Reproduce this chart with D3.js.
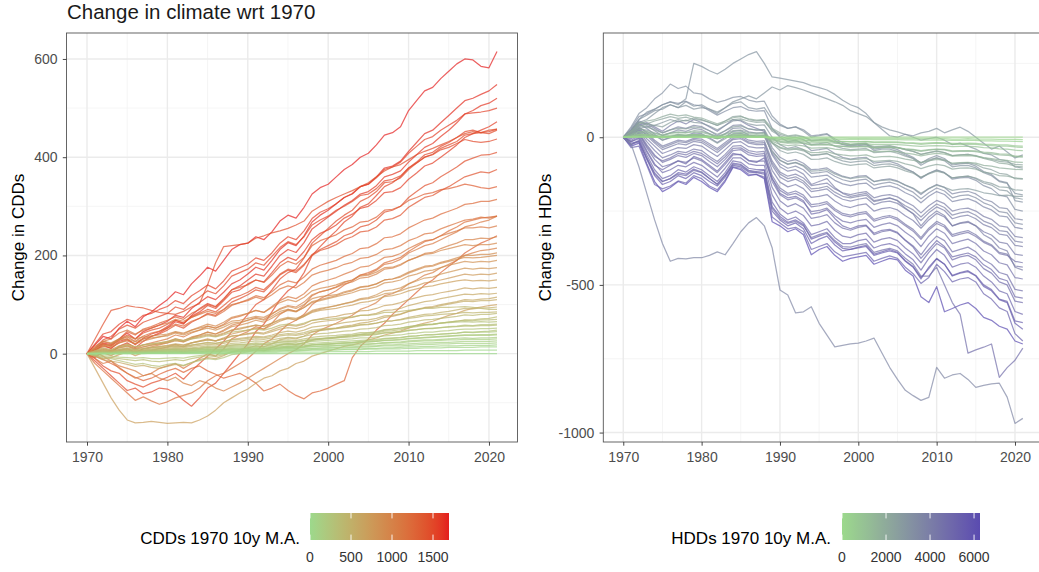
<!DOCTYPE html>
<html>
<head>
<meta charset="utf-8">
<script src="https://cdn.jsdelivr.net/npm/d3@7"></script>
<style>
  body { margin: 0; background: #fff; }
  svg { display: block; font-family: "Liberation Sans", Arial, Helvetica, sans-serif; }
</style>
</head>
<body>
<svg id="chart" width="1039" height="572"></svg>
<script>
// ---- data -------------------------------------------------------------
const years = [1970,1971,1972,1973,1974,1975,1976,1977,1978,1979,
  1980,1981,1982,1983,1984,1985,1986,1987,1988,1989,
  1990,1991,1992,1993,1994,1995,1996,1997,1998,1999,
  2000,2001,2002,2003,2004,2005,2006,2007,2008,2009,
  2010,2011,2012,2013,2014,2015,2016,2017,2018,2019,
  2020,2021];

const yearTicks = [1970, 1980, 1990, 2000, 2010, 2020];
const cddTicks = [0, 200, 400, 600];
const hddTicks = [-1000, -500, 0];
const cddLegendTicks = [0, 500, 1000, 1500];
const hddLegendTicks = [0, 2000, 4000, 6000];

// 1970 cooling degree days (10y moving average) of each region
const cddBase = [1695, 1640, 1600, 1560, 1520, 1500, 1480, 1450, 1420, 1460,
  1300, 1200, 1050, 1250, 1150, 1100, 1000, 950, 900, 850, 800,
  700, 750, 700, 650, 600, 550, 500,
  420, 400, 350, 300, 300, 250, 220, 180, 140, 100, 60, 30, 0,
  1350, 1100, 900, 600, 450, 380, 320, 260, 200, 160, 120, 80, 1550];

// change in CDDs relative to 1970, one row per region
const cddChange = [
  [0,18,35,30,52,66,55,75,85,98, 110,126,120,142,158,176,168,190,212,222, 225,238,232,248,270,282,276,298,325,338, 345,360,375,385,400,408,425,445,450,462, 495,515,535,542,560,575,590,600,598,585, 582,615],
  [0,10,22,18,30,42,30,45,52,58, 66,78,74,92,104,116,110,125,142,150, 162,176,170,190,212,226,220,240,268,282, 292,305,318,325,340,345,360,378,382,392, 412,430,448,455,470,485,500,515,520,528, 535,548],
  [0,-8,5,2,15,22,12,25,35,42, 52,65,60,78,92,102,96,112,130,138, 150,162,158,178,200,212,206,226,254,266, 278,290,302,312,325,330,342,360,365,372, 390,405,420,428,442,455,470,488,495,505, 510,520],
  [0,5,18,10,25,30,18,32,40,45, 55,68,62,76,85,98,92,108,125,130, 142,150,146,165,185,196,190,208,232,245, 252,262,276,284,296,300,312,328,330,338, 355,368,382,388,400,412,425,440,448,455, 462,472],
  [0,-15,-30,-45,-60,-75,-70,-82,-78,-70, -72,-80,-95,-107,-90,-70,-60,-40,-20,0, 20,45,60,85,110,128,140,165,200,218, 235,250,268,280,298,305,322,340,348,360, 378,390,405,410,422,430,440,452,455,450, 452,457],
  [0,12,28,35,50,58,52,64,70,76, 82,95,90,104,115,128,122,138,158,165, 172,185,180,198,216,228,222,238,262,272, 280,292,300,310,322,325,336,352,355,362, 378,388,400,405,415,420,428,436,432,430, 432,437],
  [0,-10,-25,-35,-40,-55,-62,-68,-60,-55, -48,-40,-52,-35,-20,-5,10,25,45,60, 80,100,110,130,152,165,172,195,225,240, 255,270,282,292,310,318,330,348,350,358, 375,388,400,406,418,425,432,445,448,450, 448,455],
  [0,8,15,12,22,28,20,30,35,40, 48,58,52,64,72,82,78,90,105,112, 120,130,126,142,160,170,165,180,202,212, 220,228,240,246,258,262,272,288,292,300, 318,330,342,348,360,370,380,392,398,404, 405,410],
  [0,6,20,16,28,38,30,42,48,52, 60,68,62,74,82,90,85,98,112,118, 125,135,130,145,162,172,168,182,200,210, 215,222,232,238,248,250,258,272,275,282, 298,308,318,322,332,340,350,360,365,370, 368,375],
  [0,30,60,88,92,98,95,93,88,84, 82,80,86,95,102,140,185,218,220,222, 225,235,240,246,250,255,262,270,290,300, 310,318,325,332,340,348,360,372,380,385, 395,405,412,418,425,432,440,448,452,450, 455,457],
  [0,-5,-12,-20,-28,-40,-48,-55,-50,-42, -35,-30,-38,-30,-25,-35,-42,-50,-45,-40, -49,-60,-76,-70,-62,-75,-85,-92,-80,-76, -70,-62,-55,-8,15,30,48,62,80,95, 110,125,140,150,165,178,190,205,215,225, 232,240],
  [0,-20,-35,-50,-65,-80,-95,-88,-96,-103, -98,-90,-85,-80,-70,-55,-45,-40,-30,-20, -10,5,20,30,45,60,68,80,100,112, 120,128,140,148,160,165,172,185,190,196, 208,218,228,232,240,250,258,268,272,276, 278,280],
  [0,5,-5,-15,-25,-30,-35,-45,-40,-50, -55,-48,-60,-65,-55,-60,-70,-76,-68,-60, -50,-40,-30,-20,-10,0,8,20,38,48, 55,62,70,78,90,96,104,118,122,130, 142,150,160,165,175,182,190,200,205,210, 212,215],
  [0,8,20,15,28,34,25,36,42,46, 52,60,56,66,72,80,76,86,98,104, 110,118,114,126,140,148,144,156,172,180, 185,190,198,204,214,216,224,236,238,244, 256,264,272,276,284,290,296,304,306,310, 310,314],
  [0,15,25,30,42,48,40,48,52,58, 62,70,66,74,80,86,82,90,100,104, 108,115,110,120,132,138,134,145,160,166, 170,175,182,186,194,196,202,212,214,220, 230,236,244,246,254,260,266,272,274,278, 276,280],
  [0,4,10,6,14,18,10,18,22,26, 30,38,34,42,48,56,52,60,72,76, 82,88,84,96,108,116,112,122,138,145, 150,155,162,168,176,178,186,196,198,204, 214,222,230,232,240,245,250,256,256,258, 256,260],
  [0,-5,2,-4,6,10,2,10,14,18, 22,28,24,32,38,44,40,48,58,62, 68,74,70,80,92,98,95,105,120,126, 130,135,142,146,154,156,162,172,174,180, 190,196,204,206,214,220,225,232,232,235, 234,238],
  [0,10,18,14,22,26,20,26,30,34, 38,44,40,48,54,60,56,64,74,78, 82,88,84,94,104,110,106,115,128,133, 136,140,146,150,158,160,166,175,176,182, 190,196,202,204,210,214,218,222,220,222, 222,225],
  [0,2,8,4,12,16,8,14,18,20, 24,30,26,34,38,44,40,46,55,58, 62,68,64,72,82,88,85,94,106,110, 114,118,124,128,135,137,142,150,152,158, 166,172,178,180,186,190,195,200,200,202, 202,205],
  [0,6,14,20,28,30,24,30,32,34, 36,42,38,44,48,52,48,54,62,64, 68,72,68,76,86,90,86,94,104,108, 112,116,120,124,130,132,136,144,146,150, 158,162,168,170,175,180,184,188,186,188, 187,190],
  [0,-4,-10,-8,-2,4,-4,2,6,10, 14,18,14,22,26,30,26,32,40,44, 48,52,50,58,66,72,68,76,86,90, 94,98,102,106,112,114,120,128,130,134, 142,148,154,156,162,166,170,174,172,174, 173,175],
  [0,-30,-60,-90,-115,-135,-141,-140,-138,-140, -142,-141,-140,-141,-135,-127,-115,-100,-90,-80, -72,-60,-50,-45,-35,-30,-20,-15,-5,0, 5,10,15,18,22,28,32,38,42,46, 52,58,62,66,72,78,82,88,92,95, 98,100],
  [0,4,8,6,12,15,10,14,17,20, 22,26,24,30,34,38,35,40,48,50, 54,58,55,62,70,74,72,78,88,92, 95,98,102,105,110,112,116,122,124,128, 134,138,144,146,150,154,158,162,160,162, 161,164],
  [0,6,12,8,16,20,14,18,20,22, 25,30,27,32,36,40,37,42,48,52, 55,58,56,62,68,72,70,76,84,88, 90,92,96,99,104,106,110,116,118,122, 128,132,136,138,142,145,148,150,148,149, 148,150],
  [0,2,5,3,8,10,6,9,12,14, 16,19,17,22,25,28,26,30,36,38, 41,44,42,48,54,58,56,60,68,71, 74,76,80,82,87,88,92,98,100,104, 110,114,118,120,124,127,130,134,132,134, 133,135],
  [0,3,6,4,9,12,8,11,13,15, 17,20,18,22,25,28,26,30,35,37, 40,42,40,45,50,53,51,55,62,65, 67,69,72,74,78,79,82,88,89,92, 98,102,106,108,112,115,118,121,120,122, 121,123],
  [0,1,4,2,6,8,4,7,9,11, 13,15,14,17,20,23,21,24,29,31, 33,35,34,38,43,46,44,48,54,56, 58,60,63,65,68,69,72,77,78,81, 86,89,93,94,98,101,104,107,106,108, 108,110],
  [0,2,4,3,6,7,5,7,8,10, 11,13,12,15,17,19,18,21,25,26, 28,30,29,32,36,38,37,40,45,47, 49,51,53,55,58,59,62,66,67,70, 74,77,80,81,84,86,89,92,91,93, 93,95],
  [0,5,10,8,14,18,14,18,20,22, 24,28,26,30,32,36,34,38,44,46, 48,50,48,52,58,60,58,62,68,70, 70,72,74,75,78,78,80,84,84,86, 88,90,92,92,94,94,95,96,94,92, 90,90],
  [0,2,3,2,5,6,4,6,7,8, 9,11,10,12,14,16,15,17,21,22, 24,26,25,28,31,33,32,35,39,41, 42,44,46,47,50,51,53,57,58,60, 64,66,69,70,72,74,76,79,78,80, 80,82],
  [0,1,3,2,4,5,3,5,6,7, 8,9,9,11,12,14,13,15,18,19, 20,22,21,24,27,28,27,30,33,35, 36,37,39,40,43,43,45,49,50,52, 55,57,59,60,62,64,66,68,67,69, 69,70],
  [0,-4,-8,-10,-14,-18,-22,-20,-24,-26, -22,-20,-24,-18,-14,-10,-12,-8,-2,0, 4,8,6,12,18,20,18,22,28,30, 32,34,36,38,40,42,44,48,50,52, 55,57,59,60,62,63,64,65,64,65, 64,65],
  [0,1,2,1,3,4,2,4,5,6, 7,8,7,9,10,12,11,13,15,16, 17,19,18,20,23,24,23,26,28,30, 31,32,33,34,36,37,39,42,43,44, 47,49,51,51,53,55,56,58,57,59, 59,60],
  [0,1,2,1,3,3,2,3,4,5, 6,7,6,8,9,10,9,11,13,14, 15,16,15,17,20,21,20,22,25,26, 27,28,29,30,32,32,34,36,37,38, 41,42,44,44,46,47,49,50,50,51, 51,52],
  [0,1,1,1,2,3,2,3,3,4, 5,6,5,7,8,9,8,9,11,12, 13,14,13,15,17,18,17,19,21,22, 23,24,25,26,27,28,29,31,32,33, 35,36,38,38,40,41,42,44,43,44, 44,45],
  [0,0,1,1,2,2,1,2,3,3, 4,5,4,6,7,7,7,8,9,10, 11,12,11,13,14,15,15,16,18,19, 19,20,21,22,23,24,25,27,27,28, 30,31,32,33,34,35,36,37,37,37, 37,38],
  [0,0,1,0,1,2,1,2,2,3, 3,4,3,4,5,6,5,6,7,8, 8,9,9,10,11,12,11,13,14,15, 15,16,17,17,18,19,20,21,22,22, 24,25,26,26,27,28,28,29,29,29, 29,30],
  [0,0,0,0,1,1,1,1,2,2, 2,3,2,3,4,4,4,5,5,6, 6,7,6,7,8,9,8,9,10,11, 11,12,12,13,13,14,15,16,16,16, 17,18,19,19,20,20,21,21,21,21, 21,22],
  [0,0,0,0,0,1,0,1,1,1, 1,2,1,2,2,3,2,3,3,4, 4,4,4,5,5,6,5,6,7,7, 7,7,8,8,8,9,9,10,10,10, 11,11,12,12,12,13,13,13,13,14, 14,14],
  [0,0,0,0,0,0,0,0,1,1, 1,1,1,1,1,1,1,1,2,2, 2,2,2,2,3,3,3,3,3,3, 4,4,4,4,4,4,5,5,5,5, 5,6,6,6,6,6,6,7,7,7, 7,7],
  [0,0,0,0,0,0,0,0,0,0, 0,0,0,0,0,0,0,0,0,0, 0,0,0,0,0,0,0,0,0,0, 0,0,0,0,0,0,0,0,0,0, 0,0,0,0,0,0,0,0,0,0, 0,0],
  [0,10,25,20,30,45,38,50,55,62, 68,75,70,82,90,100,95,110,130,135, 140,150,145,160,178,188,182,196,220,230, 236,242,252,258,268,270,278,292,294,300, 312,318,325,328,334,336,340,345,342,338, 336,340],
  [0,-10,-20,-15,-30,-40,-50,-45,-40,-30, -25,-20,-30,-20,-10,0,-5,10,30,38, 45,55,50,62,80,90,86,98,118,126, 130,136,145,150,160,162,170,182,185,192, 205,212,220,224,232,240,248,258,262,268, 272,280],
  [0,12,25,22,30,35,30,34,36,38, 40,45,42,48,52,56,52,58,66,68, 72,76,74,82,90,96,92,100,112,116, 118,120,126,130,136,138,142,150,152,156, 164,170,176,178,184,188,192,196,195,196, 198,200],
  [0,-5,-12,-15,-18,-22,-26,-24,-28,-30, -26,-22,-25,-18,-12,-8,-10,-4,4,8, 12,16,14,20,28,32,30,36,44,48, 50,52,56,58,62,64,68,74,76,80, 86,90,94,96,100,103,106,110,109,111, 112,115],
  [0,3,6,5,8,10,8,10,12,13, 14,16,15,18,20,22,21,24,28,29, 31,33,32,35,39,41,40,43,48,50, 51,52,54,56,59,60,62,66,67,69, 72,74,77,78,80,81,82,84,83,84, 84,85],
  [0,-3,-6,-8,-10,-12,-14,-12,-15,-16, -14,-12,-14,-10,-7,-4,-6,-2,3,5, 8,10,9,13,18,20,19,22,27,29, 30,32,34,36,39,40,42,46,47,49, 53,55,58,59,62,64,66,69,69,71, 72,75],
  [0,2,3,3,4,5,4,5,6,7, 8,9,8,10,11,13,12,14,17,18, 19,20,19,21,24,25,25,27,30,31, 32,33,35,36,38,39,40,43,44,45, 48,49,51,52,53,54,55,56,56,57, 57,58],
  [0,-2,-4,-5,-7,-8,-9,-8,-10,-10, -9,-8,-9,-6,-4,-2,-3,0,3,4, 6,7,6,9,12,13,12,14,18,19, 20,21,22,23,25,26,27,30,31,32, 35,36,38,39,40,41,42,44,44,45, 46,48],
  [0,1,2,2,3,3,3,3,4,4, 5,5,5,6,7,8,7,8,10,10, 11,12,11,13,14,15,15,16,18,19, 20,21,22,22,24,24,25,27,28,29, 31,32,33,34,35,36,37,38,38,39, 39,40],
  [0,0,1,1,2,2,1,2,2,3, 3,4,3,5,5,6,6,7,8,8, 9,10,9,11,12,13,12,14,15,16, 17,17,18,19,20,20,21,23,23,24, 26,27,28,28,29,30,31,32,31,32, 32,33],
  [0,0,0,0,1,1,1,1,1,2, 2,3,2,3,4,4,4,5,6,6, 7,7,7,8,9,10,9,10,11,12, 13,13,14,14,15,16,16,18,18,19, 20,21,22,22,23,23,24,25,25,25, 25,26],
  [0,0,0,0,0,1,0,1,1,1, 1,2,1,2,2,3,3,3,4,4, 5,5,5,5,6,6,6,7,8,8, 8,9,9,10,10,11,11,12,12,13, 14,14,15,15,16,16,16,17,17,17, 17,18],
  [0,20,40,45,60,70,65,78,82,90, 96,108,102,118,128,140,132,148,168,175, 182,195,190,205,225,238,232,250,275,288, 295,305,318,326,340,345,358,375,380,390, 408,422,436,442,455,465,475,488,490,492, 495,500]
];

// 1970 heating degree days (10y moving average) of each region
const hddBase = [6270, 5200, 5500, 5000, 4800, 4600, 4500, 4300, 4200, 4000, 3900,
  4700, 3600, 3700, 3500, 3300, 3100, 3000, 2900, 2600,
  2500, 2200, 1900, 1600, 1300, 1000, 700, 400, 0, 2000,
  3900, 3000, 2400, 4900, 5300, 3800, 3400, 1500, 800, 200, 2300, 4400, 2800];

// change in HDDs relative to 1970, one row per region
const hddChange = [
  [0,-30,-20,-90,-150,-184,-170,-150,-160,-136, -150,-170,-184,-150,-102,-110,-130,-126,-140,-286, -300,-320,-310,-330,-398,-380,-370,-400,-420,-410, -405,-400,-430,-420,-410,-415,-450,-470,-540,-560, -506,-591,-580,-568,-560,-580,-610,-620,-640,-650, -690,-700],
  [0,-35,-30,-95,-160,-175,-165,-148,-155,-130, -140,-165,-178,-145,-100,-105,-125,-126,-135,-270, -290,-310,-305,-320,-380,-370,-360,-388,-405,-400, -395,-390,-420,-410,-402,-410,-440,-462,-495,-475, -430,-455,-490,-480,-475,-490,-530,-548,-578,-590, -665,-690],
  [0,-20,-15,-75,-130,-160,-150,-130,-140,-120, -130,-150,-165,-135,-95,-100,-118,-120,-125,-250, -280,-300,-290,-310,-360,-345,-335,-365,-385,-380, -375,-370,-400,-392,-385,-392,-420,-440,-480,-440, -410,-430,-470,-460,-455,-470,-505,-520,-550,-560, -630,-650],
  [0,-15,-5,-60,-110,-140,-130,-110,-118,-100, -110,-130,-150,-120,-80,-85,-105,-110,-110,-220, -260,-280,-270,-290,-330,-320,-310,-340,-360,-360, -350,-345,-375,-365,-360,-370,-395,-415,-450,-410, -380,-400,-440,-430,-425,-440,-470,-490,-520,-530, -590,-600],
  [0,-10,5,-45,-90,-120,-110,-95,-100,-85, -95,-115,-135,-105,-70,-70,-90,-95,-95,-195, -240,-260,-250,-265,-300,-295,-285,-315,-335,-340, -330,-325,-355,-345,-340,-350,-375,-395,-425,-390, -360,-375,-415,-405,-400,-415,-445,-460,-490,-500, -555,-560],
  [0,-5,10,-35,-75,-100,-92,-80,-85,-70, -80,-100,-120,-92,-60,-58,-78,-82,-80,-170, -215,-235,-225,-240,-275,-270,-262,-290,-308,-315, -305,-300,-330,-320,-315,-325,-348,-368,-398,-362, -335,-350,-388,-380,-372,-388,-415,-430,-458,-466, -515,-520],
  [0,0,15,-25,-60,-85,-75,-62,-68,-55, -62,-82,-100,-75,-45,-42,-60,-65,-62,-150, -195,-212,-205,-220,-252,-248,-240,-266,-284,-290, -282,-278,-305,-296,-290,-300,-322,-340,-370,-335, -310,-325,-360,-352,-345,-360,-385,-398,-425,-432, -475,-480],
  [0,5,20,-15,-45,-70,-60,-48,-52,-40, -45,-65,-82,-58,-30,-28,-45,-50,-48,-130, -172,-190,-182,-196,-228,-225,-218,-242,-258,-264, -256,-252,-278,-270,-265,-274,-295,-312,-340,-308, -285,-298,-330,-322,-316,-330,-352,-364,-390,-396, -436,-440],
  [0,8,25,-5,-30,-55,-45,-35,-38,-25, -30,-48,-65,-42,-18,-15,-32,-36,-35,-112, -152,-168,-160,-174,-204,-200,-194,-216,-232,-238, -230,-226,-250,-242,-238,-246,-266,-282,-308,-280, -258,-270,-300,-292,-288,-300,-320,-331,-355,-360, -396,-400],
  [0,10,30,5,-20,-42,-32,-22,-26,-14, -18,-35,-52,-30,-8,-5,-20,-25,-24,-95, -135,-150,-142,-156,-184,-180,-175,-196,-210,-216, -210,-205,-228,-220,-216,-224,-242,-258,-282,-256, -236,-248,-276,-268,-264,-276,-296,-306,-328,-332, -366,-370],
  [0,12,35,15,-10,-30,-20,-10,-14,-4, -6,-22,-38,-18,2,5,-10,-14,-12,-80, -118,-132,-125,-138,-164,-160,-155,-175,-188,-194, -188,-184,-205,-198,-194,-202,-218,-232,-256,-232, -214,-225,-250,-243,-240,-250,-268,-278,-300,-304, -336,-340],
  [0,-25,-15,-70,-120,-150,-140,-125,-130,-112, -120,-140,-160,-130,-92,-95,-115,-118,-120,-240, -275,-292,-285,-300,-340,-330,-322,-350,-370,-372, -365,-360,-390,-382,-376,-385,-410,-430,-470,-470, -440,-500,-560,-600,-731,-720,-711,-700,-813,-780, -755,-714],
  [0,-24,-100,-190,-280,-360,-420,-410,-412,-408, -408,-400,-388,-398,-360,-320,-290,-272,-300,-374, -517,-534,-595,-591,-574,-630,-670,-710,-705,-700, -697,-690,-680,-730,-779,-820,-857,-875,-891,-881, -779,-816,-805,-800,-820,-847,-840,-835,-833,-880, -969,-952],
  [0,18,45,30,10,-10,0,10,5,15, 12,-2,-18,0,20,22,8,4,6,-55, -90,-105,-98,-110,-135,-132,-128,-146,-158,-164, -158,-155,-175,-168,-165,-172,-188,-200,-222,-200, -184,-194,-218,-212,-208,-218,-236,-246,-266,-270, -305,-310],
  [0,22,55,45,30,15,25,35,30,40, 36,22,6,22,40,42,28,24,25,-35, -68,-82,-76,-88,-110,-108,-104,-120,-132,-138, -132,-130,-150,-144,-141,-148,-162,-174,-194,-174, -160,-170,-192,-186,-183,-192,-210,-218,-238,-242, -276,-280],
  [0,30,70,80,95,110,120,115,122,110, 105,90,75,88,100,104,92,88,90,30, 0,-15,-10,-22,-45,-42,-38,-55,-68,-74, -70,-68,-88,-84,-82,-90,-105,-118,-140,-122, -110,-120,-142,-138,-136,-146,-164,-174,-196,-202, -244,-250],
  [0,35,80,100,130,150,180,165,173,150, 146,130,118,125,135,138,126,120,122,72, 45,30,35,25,5,8,12,-5,-18,-25, -22,-20,-40,-36,-34,-42,-56,-68,-88,-72, -62,-72,-94,-90,-88,-98,-116,-126,-148,-154, -215,-220],
  [0,25,60,85,95,110,120,110,130,250, 240,225,214,230,250,265,280,290,250,204, 200,195,190,185,175,168,160,145,125,110, 100,80,50,27,5,0,10,5,15,20, 30,15,25,34,20,0,-20,-40,-30,-50, -70,-60],
  [0,20,50,60,80,100,110,100,108,95, 100,95,85,100,120,130,140,130,150,170, 160,175,168,160,150,140,130,120,108,90, 80,70,50,35,25,18,10,0,-10,-5, 0,-10,-25,-20,-30,-40,-55,-60,-75,-80, -100,-105],
  [0,12,30,20,5,-10,-2,5,2,10, 6,-5,-20,-5,12,14,4,0,2,-50, -78,-90,-85,-95,-115,-113,-110,-124,-134,-140, -136,-134,-150,-146,-144,-150,-162,-172,-190,-174, -162,-170,-180,-176,-174,-180,-188,-192,-198,-196, -200,-200],
  [0,15,40,35,25,15,25,30,28,35, 32,22,10,22,35,38,28,25,26,-20, -45,-55,-50,-58,-75,-74,-70,-82,-90,-95, -92,-90,-104,-100,-98,-104,-114,-122,-136,-124, -115,-122,-138,-134,-132,-138,-150,-156,-168,-170, -178,-180],
  [0,10,28,24,15,6,14,18,16,22, 20,12,2,12,22,24,16,14,15,-18, -36,-44,-40,-46,-60,-58,-56,-66,-72,-76, -74,-72,-82,-80,-78,-82,-90,-96,-106,-98, -92,-96,-108,-105,-104,-108,-118,-122,-130,-132, -138,-140],
  [0,6,18,14,6,-2,4,8,6,10, 8,2,-6,2,10,12,6,4,5,-20, -34,-40,-38,-42,-52,-51,-49,-56,-60,-63, -62,-60,-68,-66,-65,-68,-74,-78,-86,-80, -75,-78,-88,-86,-85,-88,-95,-98,-104,-106, -109,-110],
  [0,4,12,10,4,-2,2,5,4,7, 6,1,-4,1,7,8,4,3,3,-14, -24,-28,-26,-29,-37,-36,-35,-40,-43,-45, -44,-43,-49,-48,-47,-49,-54,-57,-63,-58, -55,-57,-64,-63,-62,-64,-69,-72,-77,-78, -84,-85],
  [0,3,9,7,3,-1,2,4,3,5, 4,1,-3,1,5,6,3,2,2,-10, -17,-20,-19,-21,-27,-26,-25,-29,-31,-33, -32,-31,-35,-34,-34,-35,-39,-41,-45,-42, -40,-41,-46,-45,-45,-46,-50,-52,-56,-57, -64,-65],
  [0,2,6,5,2,0,1,3,2,4, 3,1,-2,1,3,4,2,1,1,-7, -12,-14,-13,-15,-19,-18,-18,-20,-22,-23, -22,-22,-25,-24,-24,-25,-27,-29,-31,-29, -28,-29,-32,-31,-31,-32,-35,-36,-39,-40, -44,-45],
  [0,1,4,3,1,0,1,2,1,2, 2,0,-1,0,2,2,1,1,1,-4, -8,-9,-9,-10,-12,-12,-12,-13,-14,-15, -15,-14,-16,-16,-16,-16,-18,-19,-21,-19, -18,-19,-21,-21,-20,-21,-23,-24,-26,-26, -29,-30],
  [0,1,2,1,0,0,0,1,1,1, 1,0,-1,0,1,1,0,0,0,-2, -4,-5,-4,-5,-6,-6,-6,-7,-7,-7, -7,-7,-8,-8,-8,-8,-9,-9,-10,-10, -9,-10,-11,-11,-10,-11,-12,-12,-13,-13, -14,-15],
  [0,0,0,0,0,0,0,0,0,0, 0,0,0,0,0,0,0,0,0,0, 0,0,0,0,0,0,0,0,0,0, 0,0,0,0,0,0,0,0,0,0, 0,0,0,0,0,0,0,0,0,0, 0,0],
  [0,20,45,55,60,70,78,72,76,68, 65,55,45,55,66,70,62,58,60,30, 15,5,8,2,-10,-8,-5,-15,-22,-25, -24,-22,-32,-30,-28,-34,-42,-48,-58,-52, -46,-52,-62,-60,-58,-64,-72,-78,-88,-90, -98,-100],
  [0,15,40,50,35,20,40,55,45,60, 50,35,20,40,60,55,40,30,20,-60, -100,-115,-110,-125,-160,-150,-140,-170,-190,-200, -195,-190,-215,-210,-205,-215,-240,-260,-300,-270, -250,-265,-300,-290,-285,-300,-330,-345,-375,-385, -440,-450],
  [0,25,60,75,90,95,110,100,120,105, 110,95,80,100,115,120,100,95,100,60, 40,30,35,20,0,5,10,-10,-25,-30, -28,-25,-45,-40,-40,-48,-60,-72,-95,-80, -70,-80,-100,-96,-95,-104,-120,-130,-150,-156, -190,-195],
  [0,20,50,45,40,35,50,60,55,65, 60,50,40,55,70,72,60,55,58,20, 5,-5,0,-8,-25,-22,-18,-30,-38,-42, -40,-38,-52,-50,-48,-54,-64,-72,-86,-76, -70,-76,-90,-88,-86,-92,-104,-110,-122,-126, -140,-142],
  [0,-15,0,-50,-95,-110,-95,-80,-90,-65, -75,-95,-115,-85,-55,-60,-80,-85,-70,-140, -190,-205,-200,-215,-260,-255,-245,-275,-300,-310, -300,-298,-325,-315,-312,-322,-350,-372,-410,-380, -350,-370,-405,-398,-392,-405,-432,-448,-478,-486, -540,-545],
  [0,-25,-10,-70,-125,-150,-140,-120,-125,-108, -118,-140,-158,-128,-88,-92,-112,-116,-112,-235, -268,-288,-280,-296,-345,-335,-326,-355,-376,-380, -372,-366,-396,-388,-380,-390,-418,-438,-475,-445, -412,-430,-468,-458,-452,-468,-500,-516,-548,-556, -622,-628],
  [0,5,25,10,-15,-35,-25,-15,-18,-8, -12,-28,-44,-24,-4,0,-16,-20,-18,-88, -125,-140,-134,-148,-175,-172,-166,-186,-200,-205, -200,-196,-218,-212,-206,-214,-232,-246,-270,-246, -226,-238,-264,-256,-252,-264,-284,-294,-316,-320, -352,-356],
  [0,20,50,40,22,5,15,25,20,30, 26,12,-4,12,30,32,18,14,16,-45, -78,-92,-86,-98,-122,-120,-116,-132,-144,-150, -145,-142,-162,-156,-152,-160,-174,-186,-208,-188, -172,-182,-205,-198,-195,-205,-222,-232,-252,-256, -290,-295],
  [0,8,20,18,12,8,14,16,15,18, 16,10,4,10,16,17,12,10,11,-6, -14,-18,-16,-19,-26,-25,-24,-28,-31,-33, -32,-31,-36,-35,-34,-36,-40,-43,-48,-44, -41,-43,-49,-48,-47,-49,-54,-56,-60,-61, -66,-67],
  [0,4,10,9,6,4,7,8,8,9, 8,5,2,5,8,9,6,5,6,-3, -7,-9,-8,-10,-13,-12,-12,-14,-15,-16, -16,-15,-18,-17,-17,-18,-20,-21,-24,-22, -20,-21,-24,-24,-23,-24,-27,-28,-30,-30, -33,-34],
  [0,0,1,1,0,0,0,0,0,1, 0,0,0,0,0,1,0,0,0,-1, -1,-2,-2,-2,-3,-3,-3,-3,-3,-4, -4,-4,-4,-4,-4,-4,-5,-5,-5,-5, -5,-5,-6,-6,-5,-6,-6,-6,-7,-7, -7,-8],
  [0,15,35,45,55,62,70,64,68,60, 58,50,40,50,60,62,55,50,52,25, 10,2,5,0,-12,-10,-8,-18,-24,-28, -26,-25,-34,-32,-30,-35,-42,-48,-58,-52, -48,-52,-62,-60,-58,-62,-70,-75,-82,-84, -92,-94],
  [0,0,12,-30,-65,-80,-70,-55,-60,-48, -55,-72,-90,-66,-38,-36,-52,-58,-55,-140, -180,-196,-190,-204,-236,-232,-225,-248,-264,-270, -262,-258,-284,-276,-270,-280,-300,-318,-346,-314, -292,-304,-336,-328,-322,-336,-356,-368,-394,-400, -420,-425],
  [0,10,30,35,40,50,60,52,58,50, 48,38,25,40,55,58,45,40,42,0, -25,-38,-32,-42,-62,-60,-55,-70,-80,-85, -82,-80,-96,-92,-90,-96,-108,-118,-136,-122, -112,-120,-138,-134,-132,-140,-155,-162,-178,-182, -205,-210]
];

// ---- drawing ------------------------------------------------------------
const svg = d3.select("#chart");
const defs = svg.append("defs");

svg.append("text")
  .attr("x", 67).attr("y", 19)
  .attr("font-size", 20.5).attr("fill", "#1a1a1a")
  .text("Change in climate wrt 1970");

function drawPanel(cfg) {
  const { id, left, right, top, bottom, base, change, yTicks, low, high,
          yTitle, yTitleX, legendTitle, legendTitleEnd, barX, barW, legendTicks } = cfg;

  // ggplot-style 5% expansion of the data range
  const yrExt = d3.extent(years);
  const yrPad = (yrExt[1] - yrExt[0]) * 0.05;
  const x = d3.scaleLinear().domain([yrExt[0] - yrPad, yrExt[1] + yrPad]).range([left, right]);
  const vals = change.flat();
  const vExt = d3.extent(vals);
  const vPad = (vExt[1] - vExt[0]) * 0.05;
  const y = d3.scaleLinear().domain([vExt[0] - vPad, vExt[1] + vPad]).range([bottom, top]);

  const colour = d3.scaleLinear()
    .domain([0, d3.max(base)])
    .range([low, high])
    .interpolate(d3.interpolateLab);

  const g = svg.append("g");

  // minor grid (midpoints between major breaks)
  const xStep = yearTicks[1] - yearTicks[0];
  const xMinor = d3.range(yearTicks[0] - xStep / 2, yearTicks[yearTicks.length - 1] + xStep, xStep)
    .filter(v => v > x.domain()[0] && v < x.domain()[1]);
  const yStep = yTicks[1] - yTicks[0];
  const yMinor = d3.range(yTicks[0] - yStep / 2, yTicks[yTicks.length - 1] + yStep, yStep)
    .filter(v => v > y.domain()[0] && v < y.domain()[1]);

  g.append("g").selectAll("line").data(xMinor).join("line")
    .attr("x1", d => x(d)).attr("x2", d => x(d)).attr("y1", top).attr("y2", bottom)
    .attr("stroke", "#f2f2f2").attr("stroke-width", 0.8);
  g.append("g").selectAll("line").data(yMinor).join("line")
    .attr("y1", d => y(d)).attr("y2", d => y(d)).attr("x1", left).attr("x2", right)
    .attr("stroke", "#f2f2f2").attr("stroke-width", 0.8);
  g.append("g").selectAll("line").data(yearTicks).join("line")
    .attr("x1", d => x(d)).attr("x2", d => x(d)).attr("y1", top).attr("y2", bottom)
    .attr("stroke", "#ebebeb").attr("stroke-width", 1.4);
  g.append("g").selectAll("line").data(yTicks).join("line")
    .attr("y1", d => y(d)).attr("y2", d => y(d)).attr("x1", left).attr("x2", right)
    .attr("stroke", "#ebebeb").attr("stroke-width", 1.4);

  // one line per region, high-degree-day regions first so the low ones sit on top
  const order = d3.range(change.length).sort((a, b) => base[b] - base[a]);
  const line = d3.line().x((d, i) => x(years[i])).y(d => y(d));
  g.append("g").selectAll("path").data(order).join("path")
    .attr("d", i => line(change[i]))
    .attr("fill", "none")
    .attr("stroke", i => colour(base[i]))
    .attr("stroke-width", 1.25)
    .attr("stroke-opacity", 0.7)
    .attr("stroke-linejoin", "round");

  // panel border
  g.append("rect")
    .attr("x", left).attr("y", top).attr("width", right - left).attr("height", bottom - top)
    .attr("fill", "none").attr("stroke", "#555").attr("stroke-width", 0.9);

  // axes
  const xAxis = g.append("g").attr("transform", `translate(0,${bottom})`)
    .call(d3.axisBottom(x).tickValues(yearTicks).tickFormat(d3.format("d")).tickSize(3.7).tickPadding(6.3));
  const yAxis = g.append("g").attr("transform", `translate(${left},0)`)
    .call(d3.axisLeft(y).tickValues(yTicks).tickFormat(d3.format("d")).tickSize(3.7).tickPadding(5.3));
  [xAxis, yAxis].forEach(a => {
    a.select(".domain").remove();
    a.selectAll(".tick line").attr("stroke", "#333").attr("stroke-width", 0.9);
    a.selectAll(".tick text").attr("fill", "#4d4d4d").attr("font-size", 14)
      .attr("font-family", '"Liberation Sans", Arial, Helvetica, sans-serif');
  });
  yAxis.selectAll(".tick text").text(d => d < 0 ? "-" + Math.abs(d) : d);

  // y title
  svg.append("text")
    .attr("transform", `translate(${yTitleX},${(top + bottom) / 2}) rotate(-90)`)
    .attr("text-anchor", "middle").attr("dy", "0.35em")
    .attr("font-size", 17).attr("fill", "#000")
    .text(yTitle);

  // colourbar legend
  const gradId = "grad-" + id;
  const grad = defs.append("linearGradient").attr("id", gradId)
    .attr("x1", "0%").attr("x2", "100%").attr("y1", "0%").attr("y2", "0%");
  const maxBase = d3.max(base);
  d3.range(0, 1.0001, 0.05).forEach(t => {
    grad.append("stop").attr("offset", (t * 100) + "%").attr("stop-color", colour(t * maxBase));
  });
  const barY = 513, barH = 27;
  svg.append("rect").attr("x", barX).attr("y", barY).attr("width", barW).attr("height", barH)
    .attr("fill", `url(#${gradId})`);
  const lx = d3.scaleLinear().domain([0, maxBase]).range([barX, barX + barW]);
  const tg = svg.append("g");
  tg.selectAll("line.t1").data(legendTicks).join("line")
    .attr("x1", d => lx(d)).attr("x2", d => lx(d)).attr("y1", barY).attr("y2", barY + barH / 5)
    .attr("stroke", "#fff").attr("stroke-width", 0.9);
  tg.selectAll("line.t2").data(legendTicks).join("line")
    .attr("x1", d => lx(d)).attr("x2", d => lx(d)).attr("y1", barY + barH - barH / 5).attr("y2", barY + barH)
    .attr("stroke", "#fff").attr("stroke-width", 0.9);
  tg.selectAll("text").data(legendTicks).join("text")
    .attr("x", d => lx(d)).attr("y", 562)
    .attr("text-anchor", "middle").attr("font-size", 14).attr("fill", "#333")
    .text(d => d);
  svg.append("text")
    .attr("x", legendTitleEnd).attr("y", 544)
    .attr("text-anchor", "end").attr("font-size", 17).attr("fill", "#000")
    .text(legendTitle);
}

drawPanel({
  id: "cdd", left: 66.5, right: 517.5, top: 33, bottom: 442,
  base: cddBase, change: cddChange, yTicks: cddTicks,
  low: "#9cd98c", high: "#e41e1e",
  yTitle: "Change in CDDs", yTitleX: 18,
  legendTitle: "CDDs 1970 10y M.A.", legendTitleEnd: 300, barX: 310, barW: 139,
  legendTicks: cddLegendTicks
});

drawPanel({
  id: "hdd", left: 603.3, right: 1042.8, top: 33, bottom: 442,
  base: hddBase, change: hddChange, yTicks: hddTicks,
  low: "#9cd98c", high: "#5a4bb0",
  yTitle: "Change in HDDs", yTitleX: 545,
  legendTitle: "HDDs 1970 10y M.A.", legendTitleEnd: 831, barX: 842, barW: 138,
  legendTicks: hddLegendTicks
});
</script>
</body>
</html>
